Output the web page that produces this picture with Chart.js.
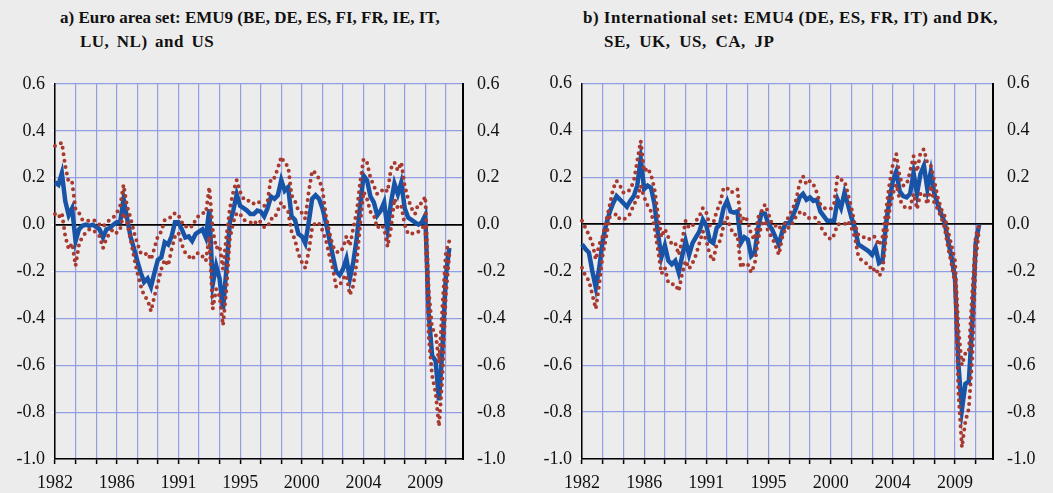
<!DOCTYPE html>
<html>
<head>
    <title>Euro area and international sets</title>
    <style>
        body { margin: 0; background: #ececec; }
        #wrap { position: relative; width: 1053px; height: 493px; background: #ececec; overflow: hidden; }
        .ttl { position: absolute; font-family: 'Liberation Serif', 'Times New Roman', serif; font-weight: bold; font-size: 17px; color: #111; white-space: nowrap; }
        canvas { position: absolute; top: 0; }
    </style>
</head>
<body>
<div id="wrap">
    <div class="ttl" style="left:60px; top:8px;">a) Euro area set: EMU9 (BE, DE, ES, FI, FR, IE, IT,</div>
    <div class="ttl" style="left:80px; top:32px; letter-spacing:0.5px; word-spacing:2.7px;">LU, NL) and US</div>
    <div class="ttl" style="left:583px; top:8px; letter-spacing:0.5px;">b) International set: EMU4 (DE, ES, FR, IT) and DK,</div>
    <div class="ttl" style="left:604px; top:32px; letter-spacing:0.5px; word-spacing:4px;">SE, UK, US, CA, JP</div>
    <canvas id="chartA" width="526" height="493" style="left:0px"></canvas>
    <canvas id="chartB" width="527" height="493" style="left:526px"></canvas>
</div>

<script src="https://cdn.jsdelivr.net/npm/chart.js"></script>
<script>
    // quarterly axis 1982Q1 - 2011Q4
    const quarters = [];
    for (let y = 1982; y <= 2011; y++) {
        for (let q = 1; q <= 4; q++) quarters.push(y + 'Q' + q);
    }

    // a) Euro area set
    const euroMid = [
        0.18, 0.17, 0.22, 0.10, 0.04, 0.07, -0.07, -0.02, -0.005, 0.0,
        -0.005, 0.0, -0.01, -0.02, -0.055, -0.02, -0.015, 0.0, 0.01, 0.01,
        0.11, 0.03, -0.05, -0.10, -0.155, -0.205, -0.245, -0.23, -0.265, -0.205,
        -0.15, -0.14, -0.075, -0.085, -0.05, 0.01, 0.01, -0.02, -0.055, -0.05,
        -0.07, -0.04, -0.03, -0.02, -0.055, 0.065, -0.255, -0.175, -0.23, -0.36,
        -0.19, 0.01, 0.06, 0.13, 0.08, 0.07, 0.06, 0.045, 0.045, 0.06,
        0.055, 0.035, 0.07, 0.12, 0.11, 0.125, 0.19, 0.145, 0.16, 0.035,
        0.02, -0.04, -0.05, -0.08, 0.01, 0.11, 0.125, 0.11, 0.07, 0.01,
        -0.06, -0.13, -0.20, -0.215, -0.19, -0.145, -0.23, -0.16, -0.06, 0.08,
        0.21, 0.19, 0.12, 0.095, 0.04, 0.06, 0.095, -0.02, 0.095, 0.175,
        0.13, 0.18, 0.07, 0.03, 0.02, 0.01, 0.0, 0.01, 0.04, -0.38,
        -0.56, -0.58, -0.75, -0.53, -0.22, -0.10
    ];
    const euroUpper = [
        0.335, 0.34, 0.35, 0.25, 0.18, 0.18, 0.065, 0.05, 0.02, 0.02,
        0.015, 0.02, 0.015, 0.0, -0.01, 0.01, 0.02, 0.03, 0.05, 0.08,
        0.17, 0.08, 0.03, -0.03, -0.08, -0.12, -0.13, -0.12, -0.15, -0.10,
        -0.05, -0.03, 0.02, 0.03, 0.03, 0.05, 0.04, 0.01, -0.01, 0.0,
        -0.01, 0.02, 0.04, 0.05, 0.05, 0.16, -0.02, -0.10, -0.09, -0.19,
        -0.05, 0.07, 0.14, 0.19, 0.14, 0.11, 0.11, 0.09, 0.09, 0.10,
        0.09, 0.08, 0.10, 0.20, 0.20, 0.24, 0.29, 0.26, 0.25, 0.125,
        0.10, 0.06, 0.05, 0.025, 0.14, 0.23, 0.22, 0.195, 0.15, 0.04,
        -0.03, -0.09, -0.115, -0.12, -0.10, -0.05, -0.09, -0.015, 0.055, 0.18,
        0.28, 0.265, 0.20, 0.165, 0.13, 0.14, 0.155, 0.14, 0.24, 0.265,
        0.23, 0.265, 0.165, 0.11, 0.07, 0.045, 0.09, 0.09, 0.12, -0.28,
        -0.445, -0.46, -0.59, -0.35, -0.12, -0.07
    ];
    const euroLower = [
        0.045, 0.03, 0.05, -0.05, -0.105, -0.08, -0.175, -0.085, -0.05, -0.035,
        -0.02, -0.02, -0.035, -0.05, -0.10, -0.06, -0.035, -0.02, -0.035, -0.02,
        0.05, 0.01, -0.06, -0.135, -0.205, -0.26, -0.305, -0.32, -0.37, -0.305,
        -0.25, -0.19, -0.15, -0.175, -0.105, -0.05, -0.035, -0.085, -0.12, -0.135,
        -0.15, -0.125, -0.12, -0.135, -0.155, -0.05, -0.36, -0.275, -0.305, -0.43,
        -0.275, -0.06, 0.01, 0.05, 0.045, 0.02, 0.015, 0.01, 0.0, 0.02,
        0.01, -0.01, -0.01, 0.025, 0.025, 0.06, 0.095, 0.07, 0.055, -0.03,
        -0.065, -0.125, -0.16, -0.185, -0.115, -0.015, 0.01, 0.005, -0.025, -0.065,
        -0.13, -0.185, -0.265, -0.26, -0.23, -0.215, -0.30, -0.26, -0.16, 0.0,
        0.14, 0.11, 0.055, 0.04, -0.015, 0.0, -0.015, -0.095, -0.015, 0.11,
        0.07, 0.08, 0.0, -0.04, -0.04, -0.03, -0.03, -0.015, 0.0, -0.48,
        -0.645, -0.715, -0.86, -0.65, -0.30, -0.13
    ];

    // b) International set
    const intlMid = [
        -0.085, -0.105, -0.12, -0.20, -0.27, -0.185, -0.07, 0.0, 0.05, 0.09,
        0.12, 0.105, 0.09, 0.075, 0.10, 0.12, 0.165, 0.28, 0.15, 0.165,
        0.155, 0.085, -0.04, -0.14, -0.09, -0.155, -0.17, -0.155, -0.205, -0.135,
        -0.07, -0.13, -0.08, -0.055, -0.03, 0.02, -0.005, -0.07, -0.08, -0.015,
        0.0, 0.07, 0.10, 0.055, 0.05, 0.055, -0.08, -0.055, -0.065, -0.135,
        -0.12, -0.015, 0.05, 0.045, 0.0, -0.02, -0.055, -0.085, -0.03, 0.005,
        0.005, 0.035, 0.07, 0.115, 0.13, 0.105, 0.115, 0.10, 0.105, 0.055,
        0.035, 0.015, 0.015, 0.015, 0.105, 0.07, 0.135, 0.085, 0.03, -0.015,
        -0.085, -0.095, -0.105, -0.115, -0.13, -0.10, -0.165, -0.155, 0.0, 0.10,
        0.185, 0.225, 0.14, 0.12, 0.115, 0.13, 0.22, 0.13, 0.215, 0.25,
        0.15, 0.225, 0.13, 0.085, 0.045, 0.007, -0.07, -0.14, -0.23, -0.60,
        -0.79, -0.68, -0.67, -0.42, -0.08, 0.0
    ];
    const intlUpper = [
        0.015, -0.015, -0.045, -0.08, -0.15, -0.085, -0.05, 0.015, 0.08, 0.15,
        0.185, 0.165, 0.135, 0.135, 0.15, 0.185, 0.27, 0.355, 0.225, 0.24,
        0.21, 0.15, 0.04, -0.055, -0.02, -0.055, -0.085, -0.08, -0.13, -0.07,
        0.015, -0.015, -0.005, 0.015, 0.035, 0.07, 0.05, -0.005, 0.005, 0.055,
        0.09, 0.155, 0.155, 0.135, 0.14, 0.15, 0.005, 0.035, 0.015, -0.045,
        -0.065, 0.03, 0.055, 0.085, 0.045, 0.0, -0.005, -0.02, 0.0, 0.005,
        0.04, 0.065, 0.105, 0.175, 0.205, 0.17, 0.185, 0.17, 0.135, 0.085,
        0.07, 0.065, 0.065, 0.09, 0.205, 0.19, 0.185, 0.13, 0.07, 0.0,
        -0.045, -0.055, -0.055, -0.065, -0.05, -0.055, -0.09, -0.055, 0.055, 0.17,
        0.255, 0.30, 0.20, 0.165, 0.17, 0.225, 0.29, 0.225, 0.305, 0.32,
        0.26, 0.25, 0.185, 0.115, 0.065, 0.035, -0.03, -0.09, -0.155, -0.45,
        -0.60, -0.55, -0.545, -0.29, -0.05, 0.0
    ];
    const intlLower = [
        -0.185, -0.22, -0.24, -0.30, -0.36, -0.255, -0.13, -0.055, 0.03, 0.035,
        0.045, 0.02, 0.02, 0.03, 0.045, 0.085, 0.105, 0.165, 0.115, 0.08,
        0.055, -0.015, -0.11, -0.21, -0.185, -0.25, -0.255, -0.255, -0.285, -0.21,
        -0.155, -0.19, -0.165, -0.13, -0.08, -0.03, -0.07, -0.13, -0.155, -0.085,
        -0.07, -0.005, 0.03, -0.015, -0.045, -0.045, -0.185, -0.165, -0.17, -0.205,
        -0.17, -0.065, 0.0, 0.015, -0.035, -0.055, -0.09, -0.13, -0.055, -0.015,
        -0.015, 0.005, 0.035, 0.05, 0.055, 0.03, 0.025, 0.03, 0.025, -0.005,
        -0.035, -0.05, -0.065, -0.045, 0.0, 0.0, 0.0, 0.015, -0.015, -0.055,
        -0.135, -0.155, -0.165, -0.17, -0.20, -0.185, -0.22, -0.20, -0.055, 0.055,
        0.13, 0.17, 0.105, 0.08, 0.065, 0.07, 0.13, 0.065, 0.13, 0.135,
        0.085, 0.165, 0.09, 0.065, 0.03, -0.015, -0.10, -0.17, -0.255, -0.72,
        -0.95, -0.84, -0.785, -0.57, -0.15, -0.02
    ];

    const gridBlue = 'rgb(146,158,228)';
    const blue = '#1753a6';
    const red = '#a8392f';
    const serif = "'Liberation Serif', 'Times New Roman', serif";

    Chart.defaults.font.family = serif;
    Chart.defaults.font.size = 18;
    Chart.defaults.color = '#111';

    function fmt(v) {
        if (Math.abs(v) < 1e-9) return '0.0';
        return v.toFixed(1);
    }

    function makeChart(id, mid, upper, lower, leftW, rightW, top) {
        const dotted = (data) => ({
            data: data,
            borderColor: red,
            borderWidth: 4,
            borderDash: [0, 6.5],
            borderCapStyle: 'round',
            pointRadius: 0,
            tension: 0,
            fill: false,
            yAxisID: 'yL'
        });
        return new Chart(document.getElementById(id), {
            type: 'line',
            data: {
                labels: quarters,
                datasets: [
                    dotted(upper),
                    dotted(lower),
                    {
                        data: mid,
                        borderColor: blue,
                        borderWidth: 4.5,
                        pointRadius: 0,
                        tension: 0,
                        fill: false,
                        yAxisID: 'yL'
                    }
                ]
            },
            options: {
                responsive: false,
                animation: false,
                devicePixelRatio: 1,
                layout: { padding: { top: top, left: 0, right: 0, bottom: 0 } },
                plugins: { legend: { display: false }, tooltip: { enabled: false } },
                scales: {
                    x: {
                        type: 'category',
                        offset: false,
                        grid: {
                            color: c => (c.index % 6 === 0 ? gridBlue : 'rgba(0,0,0,0)'),
                            lineWidth: 1.2,
                            drawTicks: true,
                            tickLength: 5,
                            tickWidth: 1.5,
                            tickColor: c => (c.index % 6 === 0 ? '#000' : 'rgba(0,0,0,0)')
                        },
                        border: { display: true, color: '#000', width: 1.5 },
                        ticks: {
                            autoSkip: false,
                            maxRotation: 0,
                            padding: 8,
                            callback: function (v, i) {
                                return i % 18 === 0 ? this.getLabelForValue(v).slice(0, 4) : '';
                            }
                        },
                        afterFit: s => { s.height = 34; }
                    },
                    yL: {
                        position: 'left',
                        min: -1,
                        max: 0.6,
                        ticks: { stepSize: 0.2, padding: 6, callback: fmt },
                        grid: {
                            color: c => (Math.abs(c.tick.value) < 1e-9 ? '#000' : gridBlue),
                            lineWidth: c => (Math.abs(c.tick.value) < 1e-9 ? 1.8 : 1.2),
                            drawTicks: true,
                            tickLength: 4,
                            tickColor: '#fff'
                        },
                        border: { color: '#000', width: 1.5 },
                        afterFit: s => { s.width = leftW; }
                    },
                    yR: {
                        position: 'right',
                        min: -1,
                        max: 0.6,
                        ticks: { stepSize: 0.2, padding: 6, callback: fmt },
                        grid: { display: false },
                        border: { color: '#000', width: 2 },
                        afterFit: s => { s.width = rightW; }
                    }
                }
            }
        });
    }

    makeChart('chartA', euroMid, euroUpper, euroLower, 55, 63, 84);
    makeChart('chartB', intlMid, intlUpper, intlLower, 56, 60, 83.5);
</script>
</body>
</html>
